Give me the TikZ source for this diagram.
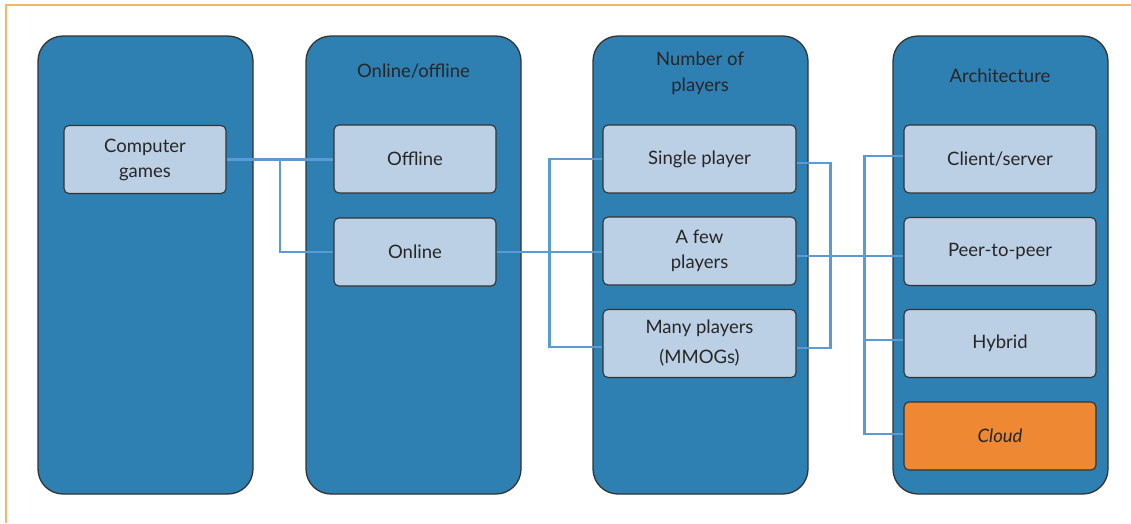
\documentclass[tikz,border=0pt]{standalone}
\usepackage{fontspec}
\usetikzlibrary{calc}
\setmainfont{Lato}
\definecolor{colblue}{HTML}{2E7FB2}
\definecolor{boxblue}{HTML}{BCD0E5}
\definecolor{cloudorange}{HTML}{EE8833}
\definecolor{linkblue}{HTML}{5B9BD5}
\definecolor{frameorange}{HTML}{F5B76B}
\definecolor{edge}{HTML}{333333}
\definecolor{txt}{HTML}{262626}
\begin{document}
\begin{tikzpicture}[x=1pt,y=-1pt,
  column/.style={draw=edge, line width=1.3pt, fill=colblue, rounded corners=25pt,
    minimum width=215pt, minimum height=458pt, inner sep=0pt},
  item/.style={draw=edge, line width=1.1pt, fill=boxblue, rounded corners=5pt,
    minimum height=68pt, inner sep=0pt, align=center, text=txt,
    font=\fontsize{18.5}{25}\selectfont},
  smallitem/.style={item, minimum width=162pt},
  wideitem/.style={item, minimum width=192pt},
  title/.style={align=center, text=txt, font=\fontsize{18.5}{26}\selectfont},
  link/.style={draw=linkblue, line width=2.2pt}
]
\useasboundingbox (0,0) rectangle (1131,523);
\draw[frameorange, line width=1.6pt] (6,523) -- (6,5) -- (1131,5);

\node[column] (c1) at (145.5,265) {};
\node[column] (c2) at (413.5,265) {};
\node[column] (c3) at (700.5,265) {};
\node[column] (c4) at (1000.5,265) {};

\node[title] (t2) at (413.5,71) {Online/offline};
\node[title] (t3) at (700,73) {Number of\\players};
\node[title] (t4) at (1000,76) {Architecture};

\node[smallitem] (cg) at (145,159.5) {Computer\\games};
\node[smallitem] (off) at (415,159) {Offline};
\node[smallitem] (on) at (415,252) {Online};

\node[wideitem, minimum width=193pt] (single) at (699.5,159) {Single player};
\node[wideitem, minimum width=193pt] (few) at (699.5,251) {A few\\players};
\node[wideitem, minimum width=193pt, font=\fontsize{18.5}{30}\selectfont] (many) at (699.5,343.5) {Many players\\(MMOGs)};

\node[wideitem] (cs) at (1000,159) {Client/server};
\node[wideitem] (p2p) at (1000,251.5) {Peer-to-peer};
\node[wideitem] (hyb) at (1000,343.5) {Hybrid};
\node[wideitem, fill=cloudorange, font=\fontsize{18.5}{25}\selectfont\itshape] (cloud) at (1000,436) {Cloud};

\coordinate (j1) at ($(cg.east)!0.5!(off.west)$);
\coordinate (j2) at ($(on.east)!0.5!(few.west)$);
\coordinate (j3) at ([xshift=34pt]few.east);
\coordinate (j4) at ([xshift=-39pt]p2p.west);

% connectors
\draw[link] (cg.east) -- (cg.east -| off.west);
\draw[link] (j1) |- (on.west);
\draw[link] (on.east) -- (on.east -| few.west);
\draw[link] (single.west) -| (j2) |- ([yshift=-3.5pt]many.west);
\draw[link] ([yshift=-4pt]single.east) -| (j3) |- ([yshift=-4.5pt]many.east);
\draw[link] ([yshift=-5pt]few.east) -- ([yshift=-5pt]few.east -| p2p.west);
\draw[link] ([yshift=3pt]cs.west) -| (j4) |- ([yshift=2pt]cloud.west);
\draw[link] ([yshift=3.5pt]hyb.west) -- ([yshift=3.5pt]hyb.west -| j4);
\end{tikzpicture}
\end{document}
